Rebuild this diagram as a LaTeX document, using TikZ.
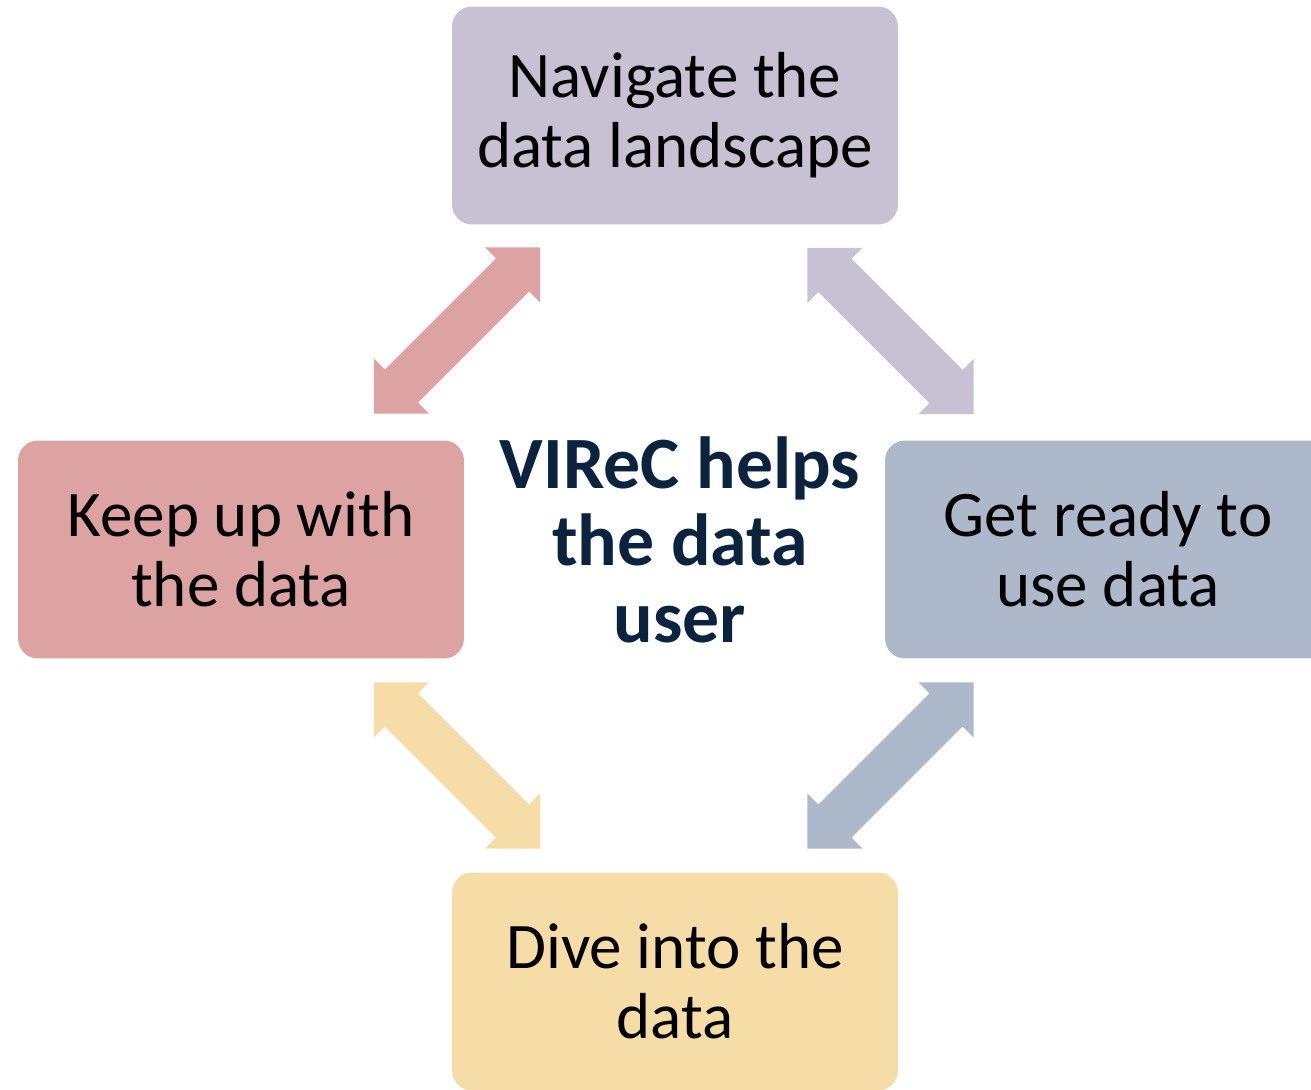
\documentclass[tikz,border=0pt]{standalone}
\usepackage{fontspec}
\setmainfont{Carlito}
\definecolor{navbox}{HTML}{C8C0D3}
\definecolor{keepbox}{HTML}{DDA2A2}
\definecolor{readybox}{HTML}{ADB8CB}
\definecolor{divebox}{HTML}{F6DDA8}
\definecolor{virec}{HTML}{0C2340}
\begin{document}
\begin{tikzpicture}[x=0.02cm,y=0.02cm,
  stage/.style={rounded corners=0.4cm,minimum width=8.92cm,minimum height=4.36cm,
    align=center,text=black,font=\fontsize{37}{40}\selectfont},
  twoway/.pic={\fill[#1] (-117.4,0) -- (-78.5,38.9) -- (-78.5,23.5) -- (78.5,23.5) -- (78.5,38.9)
    -- (117.4,0) -- (78.5,-38.9) -- (78.5,-23.5) -- (-78.5,-23.5) -- (-78.5,-38.9) -- cycle;}]

\useasboundingbox (0,0) rectangle (1311,1089);
\clip (0,0) rectangle (1311,1089);

\node[stage,fill=navbox] (nav) at (675,973.5) {Navigate the\\data landscape};
\node[stage,fill=keepbox] (keep) at (241,539.5) {Keep up with\\the data};
\node[stage,fill=readybox] (ready) at (1108,539.5) {Get ready to\\use data};
\node[stage,fill=divebox] (dive) at (675,107.5) {Dive into the\\data};

\node[align=center,text=virec,font=\fontsize{42}{44}\bfseries] (user) at (680,549) {VIReC helps\\the data\\user};

% arrows between the stages
\pic[rotate=45] at (457,758.5) {twoway=keepbox};
\pic[rotate=-45] at (890.5,758) {twoway=navbox};
\pic[rotate=45] at (890.5,323.5) {twoway=readybox};
\pic[rotate=-45] at (457,323.5) {twoway=divebox};

\end{tikzpicture}
\end{document}
